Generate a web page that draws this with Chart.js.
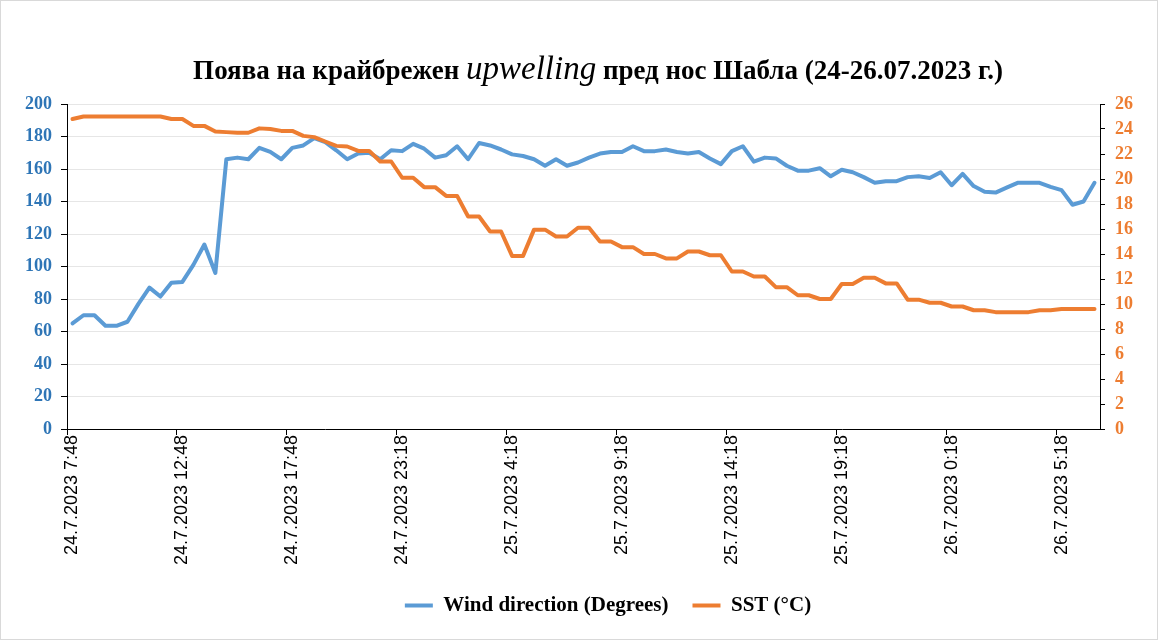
<!DOCTYPE html>
<html>
<head>
<meta charset="utf-8">
<script src="https://cdn.jsdelivr.net/npm/chart.js@4.4.0/dist/chart.umd.min.js"></script>
<style>
    html, body { margin: 0; padding: 0; background: #fff; }
    #wrap { width: 1158px; height: 640px; }
</style>
</head>
<body>
<div id="wrap"><canvas id="upwellingChart" width="1158" height="640"></canvas></div>
<script>
// Tick labels on the time axis (one every 10 readings)
const tickLabels = [
    '24.7.2023 7:48', '24.7.2023 12:48', '24.7.2023 17:48', '24.7.2023 23:18',
    '25.7.2023 4:18', '25.7.2023 9:18', '25.7.2023 14:18', '25.7.2023 19:18',
    '26.7.2023 0:18', '26.7.2023 5:18'
];

// Wind direction (degrees)
const windDirection = [
    65, 70, 70, 63.5, 63.5, 66, 77, 87, 81.5, 90,
    90.5, 101, 113.5, 96, 166, 167, 166, 173, 170.5, 166,
    173, 174.5, 179, 176.5, 171.5, 166, 169.5, 170, 166, 171.5,
    171, 175.5, 172.5, 167, 168.5, 174, 166, 176, 174.5, 172,
    169, 168, 166, 162, 166, 162, 164, 167, 169.5, 170.5,
    170.5, 174, 171, 171, 172, 170.5, 169.5, 170.5, 166.5, 163,
    171, 174, 164.5, 167, 166.5, 162, 159, 159, 160.5, 155.5,
    159.5, 158, 155, 151.5, 152.5, 152.5, 155, 155.5, 154.5, 158,
    150, 157, 149.5, 146, 145.5, 148.5, 151.5, 151.5, 151.5, 149,
    147, 138, 140, 151.5
];

// Sea surface temperature (°C)
const sst = [
    24.8, 25.0, 25.0, 25.0, 25.0, 25.0, 25.0, 25.0, 25.0, 24.8,
    24.8, 24.25, 24.25, 23.8, 23.75, 23.7, 23.7, 24.05, 24.0, 23.85,
    23.85, 23.45, 23.35, 23.0, 22.65, 22.6, 22.25, 22.25, 21.4, 21.4,
    20.1, 20.1, 19.35, 19.35, 18.65, 18.65, 17.0, 17.0, 15.8, 15.8,
    13.85, 13.85, 15.95, 15.95, 15.4, 15.4, 16.1, 16.1, 15.0, 15.0,
    14.55, 14.55, 14.0, 14.0, 13.65, 13.65, 14.2, 14.2, 13.9, 13.9,
    12.6, 12.6, 12.2, 12.2, 11.35, 11.35, 10.7, 10.7, 10.4, 10.4,
    11.6, 11.6, 12.1, 12.1, 11.65, 11.65, 10.35, 10.35, 10.1, 10.1,
    9.8, 9.8, 9.5, 9.5, 9.35, 9.35, 9.35, 9.35, 9.5, 9.5,
    9.6, 9.6, 9.6, 9.6
];

const labels = windDirection.map((v, i) => i % 10 === 0 ? tickLabels[i / 10] : '');

const BLUE = '#5B9BD5';
const ORANGE = '#ED7D31';

/**
 * Title with mixed fonts (the word "upwelling" is italic)
 */
const titlePlugin = {
    id: 'mixedTitle',
    afterLayout(chart) {
        // legend in the original sits a little right of the canvas centre
        const lg = chart.legend;
        if (lg) {
            lg.left += 29; lg.right += 29;
            lg.top -= 14; lg.bottom -= 14;
        }
    },
    afterDraw(chart) {
        const ctx = chart.ctx;
        const parts = [
            { text: 'Поява на крайбрежен ', font: 'bold 27px "Liberation Serif", serif' },
            { text: 'upwelling', font: 'italic 33px "Liberation Serif", serif' },
            { text: ' пред нос Шабла (24-26.07.2023 г.)', font: 'bold 27px "Liberation Serif", serif' }
        ];
        ctx.save();
        let total = 0;
        parts.forEach(p => { ctx.font = p.font; p.w = ctx.measureText(p.text).width; total += p.w; });
        let x = 598 - total / 2;
        ctx.fillStyle = '#000';
        ctx.textBaseline = 'alphabetic';
        parts.forEach(p => {
            ctx.font = p.font;
            ctx.fillText(p.text, x, 79);
            x += p.w;
        });
        // outer frame
        ctx.strokeStyle = '#d9d9d9';
        ctx.lineWidth = 1;
        ctx.strokeRect(0.5, 0.5, chart.width - 1, chart.height - 1);
        ctx.restore();
    }
};

const ctx = document.getElementById('upwellingChart').getContext('2d');

new Chart(ctx, {
    type: 'line',
    data: {
        labels: labels,
        datasets: [{
            label: 'Wind direction (Degrees)',
            data: windDirection,
            borderColor: BLUE,
            backgroundColor: BLUE,
            borderWidth: 4,
            pointRadius: 0,
            borderJoinStyle: 'round',
            borderCapStyle: 'round',
            yAxisID: 'y',
            order: 2
        }, {
            label: 'SST (°C)',
            data: sst,
            borderColor: ORANGE,
            backgroundColor: ORANGE,
            borderWidth: 4,
            pointRadius: 0,
            borderJoinStyle: 'round',
            borderCapStyle: 'round',
            yAxisID: 'y1',
            order: 1
        }]
    },
    options: {
        responsive: false,
        animation: false,
        devicePixelRatio: 1,
        layout: {
            padding: { top: 104, left: 0, right: 0, bottom: 0 }
        },
        plugins: {
            title: { display: false },
            tooltip: { enabled: false },
            legend: {
                position: 'bottom',
                labels: {
                    boxWidth: 28,
                    boxHeight: 4,
                    padding: 24,
                    color: '#000',
                    font: { family: '"Liberation Serif", serif', size: 21, weight: 'bold' },
                    generateLabels: function(chart) {
                        return chart.data.datasets.map((ds, i) => ({
                            text: ds.label,
                            fillStyle: ds.borderColor,
                            strokeStyle: ds.borderColor,
                            lineWidth: 0,
                            hidden: false,
                            datasetIndex: i
                        }));
                    }
                }
            }
        },
        scales: {
            x: {
                type: 'category',
                offset: true,
                grid: {
                    offset: true,
                    drawOnChartArea: false,
                    tickLength: 6,
                    tickColor: function(c) {
                        return c.index % 10 === 0 ? '#000' : 'rgba(0,0,0,0)';
                    }
                },
                border: { color: '#000', width: 1 },
                ticks: {
                    autoSkip: false,
                    minRotation: 90,
                    maxRotation: 90,
                    padding: 0,
                    color: '#000',
                    font: { family: '"Liberation Sans", Arial, sans-serif', size: 18 },
                    callback: function(value, index) {
                        return index % 10 === 0 ? tickLabels[index / 10] : '';
                    }
                },
                afterFit: function(scale) { scale.height = 156; }
            },
            y: {
                position: 'left',
                min: 0,
                max: 200,
                grid: {
                    color: '#e6e6e6',
                    tickColor: '#000',
                    tickLength: 6
                },
                border: { color: '#000', width: 1 },
                ticks: {
                    stepSize: 20,
                    padding: 9,
                    color: '#2E75B6',
                    font: { family: '"Liberation Serif", serif', size: 18, weight: 'bold' }
                },
                afterFit: function(scale) { scale.width = 67; }
            },
            y1: {
                position: 'right',
                min: 0,
                max: 26,
                grid: {
                    drawOnChartArea: false,
                    tickColor: '#000',
                    tickLength: 5
                },
                border: { color: '#000', width: 1 },
                ticks: {
                    stepSize: 2,
                    padding: 10,
                    color: ORANGE,
                    font: { family: '"Liberation Serif", serif', size: 18, weight: 'bold' }
                },
                afterFit: function(scale) { scale.width = 58; }
            }
        }
    },
    plugins: [titlePlugin]
});
</script>
</body>
</html>
